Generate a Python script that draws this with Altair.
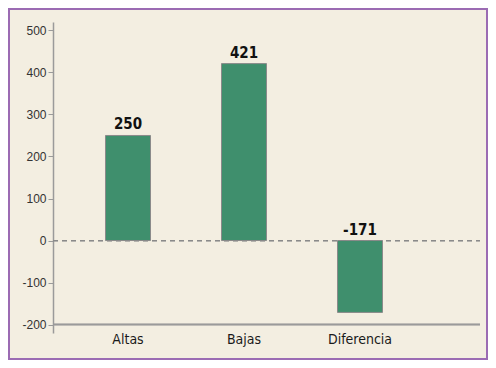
import altair as alt
import pandas as pd

categories = ["Altas", "Bajas", "Diferencia"]
values = [250, 421, -171]

df = pd.DataFrame({"cat": categories, "val": values})
df["lab_y"] = df["val"].clip(lower=0)
df["lab"] = df["val"].astype(str)

W, H = 427, 311
PL, PT, PR, PB = 45, 14, 8, 27
COND = "DejaVu Sans Condensed, Liberation Sans Narrow, Arial Narrow, sans-serif"

xscale = alt.Scale(range=[17, 365], paddingInner=0.612, paddingOuter=0.306)
yscale = alt.Scale(domain=[-220, 520], nice=False, zero=False)

base = alt.Chart(df)

bars = base.mark_bar(color="#3f8f6d", stroke="#8a8a8a", strokeWidth=1).encode(
    x=alt.X("cat:N", sort=categories, scale=xscale,
            axis=alt.Axis(title=None, domain=False, ticks=False, labelAngle=0,
                          labelFont=COND, labelFontSize=14,
                          labelColor="#1a1a1a", labelPadding=-1)),
    y=alt.Y("val:Q", scale=yscale,
            axis=alt.Axis(title=None, values=[-200, -100, 0, 100, 200, 300, 400, 500],
                          labelExpr="'' + datum.value",
                          grid=False, domainColor="#9a9a9a", tickColor="#9a9a9a",
                          tickSize=5, labelFont="Liberation Sans", labelFontSize=12,
                          labelColor="#333333", labelPadding=2, domainWidth=1.5)),
)

labels = base.mark_text(font=COND, fontWeight="bold", fontSize=15,
                        baseline="bottom", dy=-3, color="#111111").encode(
    x=alt.X("cat:N", sort=categories, scale=xscale),
    y=alt.Y("lab_y:Q", scale=yscale),
    text="lab:N",
)

zero = alt.Chart(df).mark_rule(color="#8a8a8a", strokeDash=[5, 4], strokeWidth=1.2).encode(
    y=alt.datum(0, scale=yscale), x=alt.value(0), x2=alt.value(W)
)
bottom = alt.Chart(df).mark_rule(color="#9a9a9a", strokeWidth=1.5).encode(
    y=alt.datum(-200, scale=yscale), x=alt.value(0), x2=alt.value(W)
)
border = alt.Chart(df).mark_rect(fill=None, stroke="#9b6bb3", strokeWidth=2).encode(
    x=alt.value(-PL + 1), x2=alt.value(W + PR - 1),
    y=alt.value(-PT + 1), y2=alt.value(H + PB - 1),
)

chart = alt.layer(zero, bottom, bars, labels, border).properties(
    width=W, height=H,
    autosize=alt.AutoSizeParams(type="none"),
    padding={"left": PL, "top": PT, "right": PR, "bottom": PB},
    background="#f3eee1",
).configure_view(stroke=None)

chart.save("out.html", embed_options={"renderer": "svg", "actions": False})
